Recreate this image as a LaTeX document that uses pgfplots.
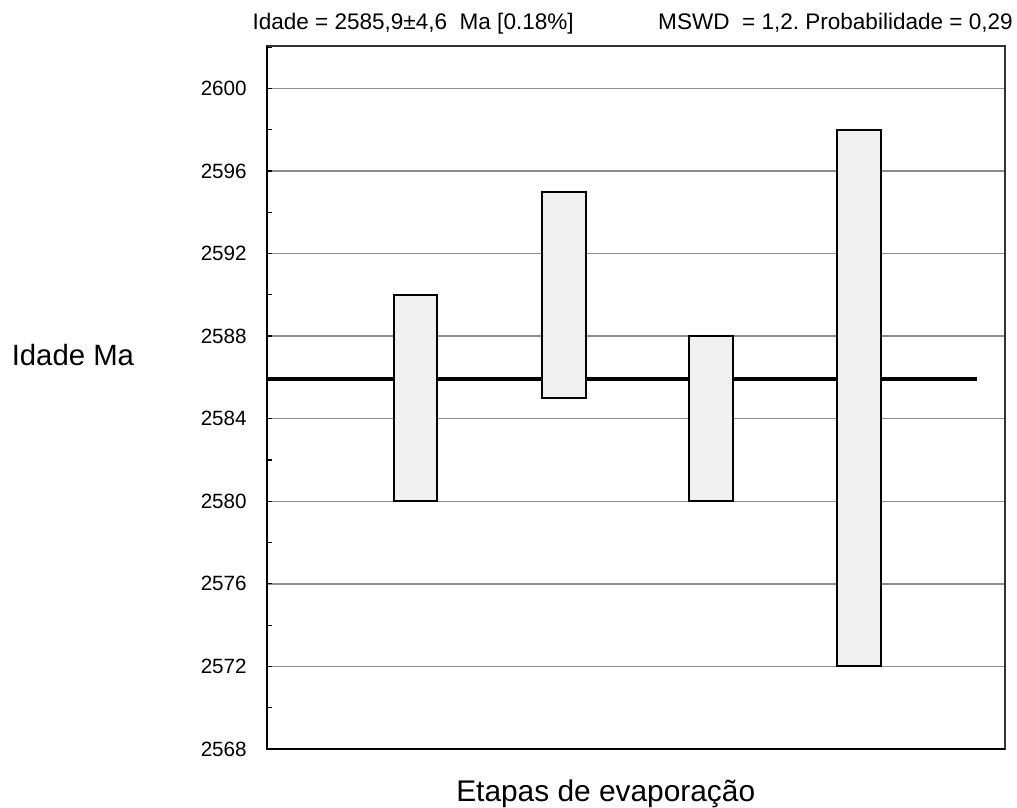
\documentclass[border=0pt]{standalone}
\usepackage{pgfplots}
\pgfplotsset{compat=1.18}
\usepackage{fontspec}
\setmainfont{Liberation Sans}
\frenchspacing
\definecolor{boxfill}{HTML}{F0F0F0}
\definecolor{gridc}{HTML}{8C8C8C}
\begin{document}
\begin{tikzpicture}
\useasboundingbox (0,0) rectangle (762.75pt,605.25pt);
\begin{axis}[
  at={(200.25pt,43.5pt)}, anchor=south west,
  scale only axis, width=553.5pt, height=527.25pt,
  xmin=0, xmax=5, ymin=2568, ymax=2602.05,
  xtick=\empty,
  ytick={2568,2572,...,2600},
  minor ytick={2570,2574,...,2602},
  ytick pos=left, tick align=inside,
  major tick length=4pt, minor tick length=3.5pt,
  every tick/.style={black, line width=0.9pt},
  ymajorgrids,
  major grid style={gridc, line width=1pt},
  axis line style={black!80, line width=0.9pt},
  /pgf/number format/assume math mode=true,
  /pgf/number format/set thousands separator={},
  yticklabel style={font=\fontsize{15.5}{18}\selectfont, anchor=east, inner sep=0pt, xshift=-15pt},
  xlabel={Etapas de evaporação},
  xlabel style={font=\fontsize{22.4}{26}\selectfont, at={(axis description cs:0.459,-0.075)}, anchor=base},
  ylabel={Idade Ma},
  ylabel style={font=\fontsize{22}{26}\selectfont, at={(axis description cs:-0.263,0.546)}, anchor=base, rotate=-90},
  clip=false,
]
\addplot[black, line width=3pt] coordinates {(0,2585.9) (4.81,2585.9)};
\addplot[draw=black, fill=boxfill, line width=1.5pt] coordinates {(0.86,2580) (1.15,2580) (1.15,2590) (0.86,2590)} --cycle;
\addplot[draw=black, fill=boxfill, line width=1.5pt] coordinates {(1.86,2585) (2.16,2585) (2.16,2595) (1.86,2595)} --cycle;
\addplot[draw=black, fill=boxfill, line width=1.5pt] coordinates {(2.86,2580) (3.16,2580) (3.16,2588) (2.86,2588)} --cycle;
\addplot[draw=black, fill=boxfill, line width=1.5pt] coordinates {(3.86,2572) (4.16,2572) (4.16,2598) (3.86,2598)} --cycle;
\draw[black, line width=1.8pt] (rel axis cs:0,1) -- (rel axis cs:0,0) -- (rel axis cs:1,0);
\node[font=\fontsize{16.9}{20}\selectfont, anchor=base west, inner sep=0pt] at (axis description cs:-0.020,1.0228) {Idade = 2585,9±4,6\ \ Ma [0.18\%]};
\node[font=\fontsize{16.9}{20}\selectfont, anchor=base east, inner sep=0pt] at (axis description cs:1.0108,1.0228) {MSWD\ \ = 1,2. Probabilidade = 0,29};
\end{axis}
\end{tikzpicture}
\end{document}
